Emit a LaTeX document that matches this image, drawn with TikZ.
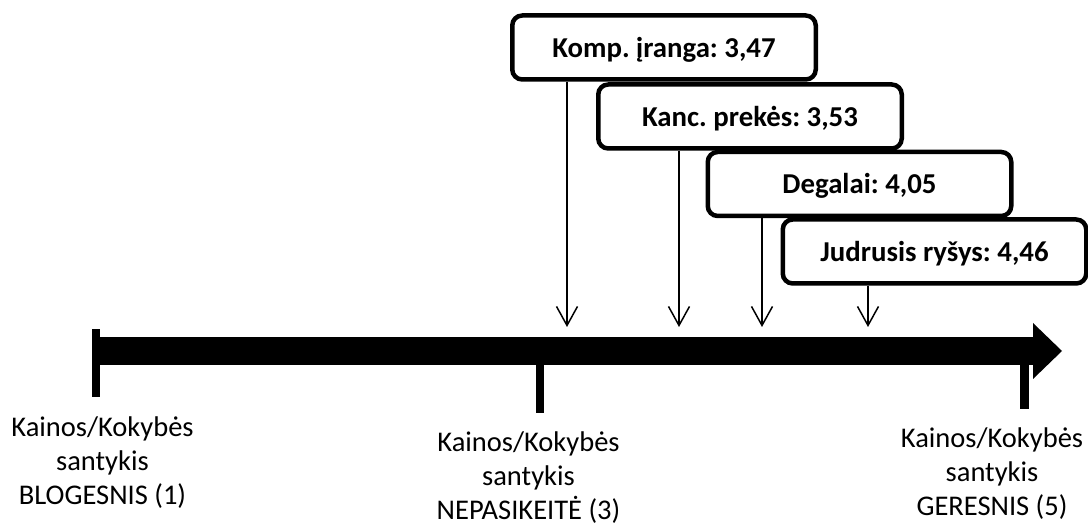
\documentclass[tikz,border=0pt]{standalone}
\usepackage{fontspec}
\setmainfont{Carlito}
\usetikzlibrary{arrows.meta}
\begin{document}
\frenchspacing
\begin{tikzpicture}[x=1pt,y=-1pt,
  valbox/.style={draw, line width=4.5pt, rounded corners=10pt, fill=white,
    minimum width=303.5pt, minimum height=64pt, inner sep=0pt,
    text height=20pt, text depth=0pt, font=\fontsize{28.8}{34}\selectfont\bfseries\frenchspacing},
  scalelabel/.style={align=center, anchor=base, inner sep=0pt,
    font=\fontsize{28.5}{34}\selectfont\frenchspacing},
  pointer/.style={line width=1.5pt, -{Straight Barb[length=19pt,width=21pt]}},
  axisfill/.style={fill=black, draw=none}]
\useasboundingbox[fill=white] (0,0) rectangle (1088,526);

% axis
\path[axisfill] (96,337) rectangle (1033,365);
\path[axisfill] (1033,323) -- (1062,351) -- (1033,379) -- cycle;
\path[axisfill] (92,329) rectangle (100,397);
\path[axisfill] (536,365) rectangle (544,413);
\path[axisfill] (1020,365) rectangle (1029,409);

% value boxes
\node[valbox] (b1) at (664,47.5) {Komp. įranga: 3,47};
\node[valbox] (b2) at (750,116.5) {Kanc. prekės: 3,53};
\node[valbox] (b3) at (859.5,184) {Degalai: 4,05};
\node[valbox] (b4) at (934.5,251.5) {Judrusis ryšys: 4,46};

% pointer tips
\coordinate (t1) at (567,327);
\coordinate (t2) at (679,327);
\coordinate (t3) at (762,327);
\coordinate (t4) at (868,327);
\draw[pointer] (b1.south -| t1) -- (t1);
\draw[pointer] (b2.south -| t2) -- (t2);
\draw[pointer] (b3.south -| t3) -- (t3);
\draw[pointer] (b4.south -| t4) -- (t4);

% scale labels (anchored at the baseline of the last line)
\node[scalelabel] (l1) at (102.5,505) {Kainos/Kokybės\\santykis\\BLOGESNIS (1)};
\node[scalelabel] (l3) at (528.5,520) {Kainos/Kokybės\\santykis\\NEPASIKEITĖ (3)};
\node[scalelabel] (l5) at (992,516) {Kainos/Kokybės\\santykis\\GERESNIS (5)};
\end{tikzpicture}
\end{document}
